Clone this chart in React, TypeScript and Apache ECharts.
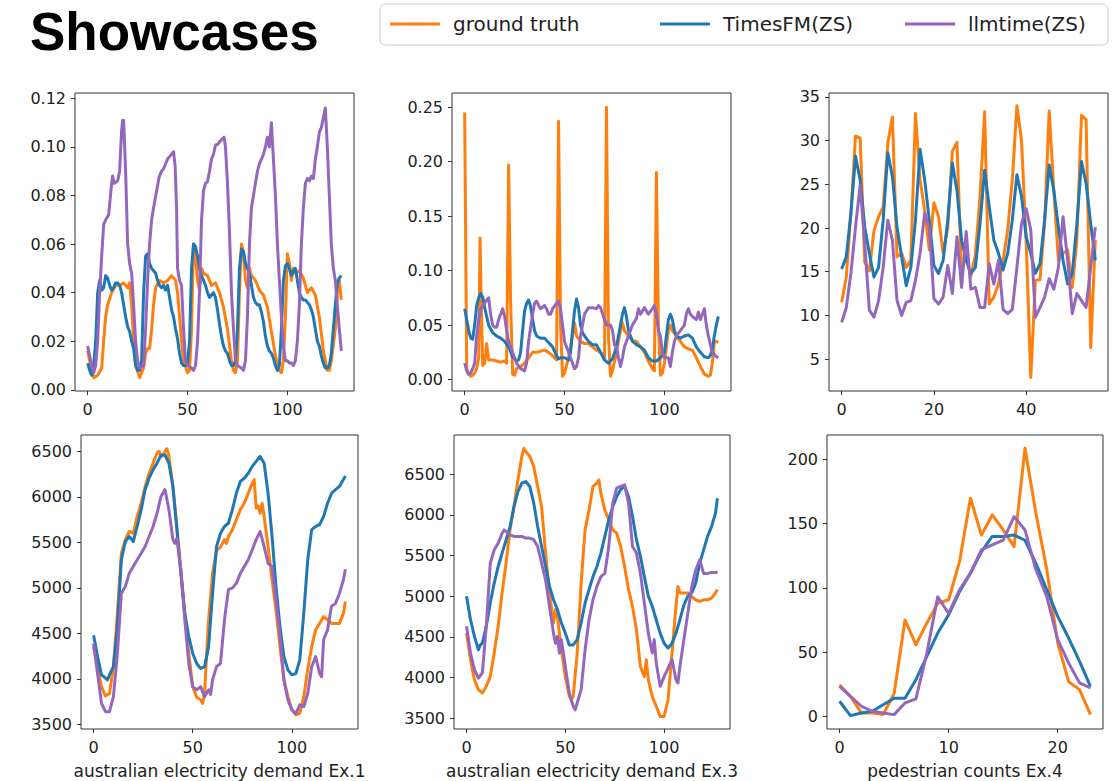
import React, { useEffect, useRef } from "react";
import * as echarts from "echarts";

const TITLE = "Showcases";
const SERIES_NAMES = ["ground truth", "TimesFM(ZS)", "llmtime(ZS)"];
const COLORS = ["#ff7f0e", "#1f77b4", "#9467bd"];
const X_NAMES = ["", "", "", "australian electricity demand Ex.1", "australian electricity demand Ex.3", "pedestrian counts Ex.4"];

const X_TICKS_A = [0, 50, 100];
const X_TICKS_B = [0, 20, 40];
const X_TICKS_C = [0, 10, 20];
const Y_TICKS_1 = [0, 0.02, 0.04, 0.06, 0.08, 0.1, 0.12];
const Y_TICKS_2 = [0, 0.05, 0.1, 0.15, 0.2, 0.25];
const Y_TICKS_3 = [5, 10, 15, 20, 25, 30, 35];
const Y_TICKS_4 = [3500, 4000, 4500, 5000, 5500, 6000, 6500];
const Y_TICKS_6 = [0, 50, 100, 150, 200];

// Panel 1
const p1Truth = [[0,0.016],[1,0.012],[3,0.005],[5,0.006],[7,0.009],[8,0.02],[9,0.03],[10,0.035],[12,0.04],[14,0.043],[16,0.043],[18,0.044],[20,0.042],[21,0.044],[22,0.035],[23,0.02],[24,0.01],[26,0.005],[28,0.009],[29,0.015],[30,0.017],[31,0.017],[32,0.025],[33,0.035],[34,0.042],[36,0.045],[38,0.044],[40,0.045],[42,0.047],[44,0.045],[45,0.04],[46,0.03],[47,0.02],[48,0.012],[50,0.007],[51,0.008],[52,0.025],[53,0.06],[54,0.055],[55,0.045],[56,0.041],[57,0.05],[58,0.048],[60,0.047],[62,0.043],[64,0.044],[66,0.04],[68,0.034],[70,0.025],[72,0.012],[73,0.008],[74,0.007],[75,0.012],[76,0.04],[77,0.06],[78,0.057],[79,0.045],[80,0.042],[81,0.05],[82,0.047],[84,0.045],[86,0.041],[88,0.039],[90,0.034],[92,0.024],[94,0.014],[96,0.008],[97,0.007],[98,0.012],[99,0.03],[100,0.056],[101,0.052],[102,0.045],[103,0.05],[104,0.048],[106,0.049],[108,0.046],[110,0.04],[112,0.042],[114,0.039],[116,0.03],[118,0.016],[120,0.008],[121,0.008],[122,0.012],[124,0.025],[125,0.04],[126,0.045],[127,0.037]];
const p1Times = [0.011,0.008,0.006,0.01,0.02,0.04,0.045,0.041,0.042,0.047,0.046,0.043,0.041,0.042,0.044,0.044,0.043,0.04,0.035,0.03,0.026,0.024,0.02,0.017,0.01,0.008,0.008,0.012,0.04,0.055,0.056,0.052,0.05,0.049,0.048,0.045,0.043,0.042,0.043,0.041,0.043,0.038,0.033,0.03,0.025,0.021,0.015,0.011,0.01,0.01,0.011,0.02,0.05,0.06,0.059,0.055,0.05,0.047,0.045,0.043,0.04,0.038,0.039,0.04,0.038,0.033,0.027,0.022,0.018,0.016,0.015,0.012,0.01,0.01,0.012,0.025,0.05,0.058,0.057,0.052,0.05,0.048,0.043,0.038,0.036,0.035,0.035,0.032,0.028,0.022,0.018,0.016,0.015,0.013,0.01,0.008,0.01,0.025,0.045,0.051,0.052,0.05,0.047,0.049,0.05,0.045,0.04,0.038,0.037,0.037,0.036,0.035,0.033,0.03,0.025,0.02,0.018,0.014,0.011,0.009,0.009,0.01,0.015,0.025,0.035,0.044,0.046,0.047];
const p1Llm = [[0,0.018],[2,0.01],[3,0.007],[4,0.01],[5,0.02],[6,0.04],[7,0.055],[8,0.068],[9,0.07],[10.5,0.072],[12,0.085],[12.5,0.088],[13.3,0.085],[15,0.086],[16,0.09],[17,0.107],[17.5,0.111],[18,0.111],[19,0.09],[20,0.06],[21,0.052],[22,0.048],[23,0.035],[24,0.02],[25,0.012],[26,0.009],[28,0.01],[29,0.025],[30,0.045],[31,0.06],[32,0.07],[33,0.075],[35.8,0.0877],[37,0.09],[38,0.091],[39,0.093],[40,0.095],[41,0.096],[43,0.098],[43.8,0.092],[44.5,0.075],[45,0.05],[46,0.045],[47,0.043],[48,0.025],[49,0.012],[50,0.01],[52,0.009],[53,0.008],[54,0.01],[55,0.02],[56,0.04],[57,0.07],[58,0.082],[59,0.085],[60,0.0857],[61,0.09],[62,0.095],[63,0.097],[64,0.1008],[65,0.101],[66,0.102],[67,0.103],[68.3,0.104],[69,0.1],[70,0.085],[71,0.065],[72,0.04],[73,0.025],[74,0.012],[75,0.01],[77,0.009],[78,0.008],[79,0.012],[80,0.03],[81,0.06],[82,0.075],[83,0.08],[84,0.085],[85,0.09],[86,0.093],[87,0.095],[88,0.097],[89,0.1],[90,0.104],[91,0.1],[92,0.11],[93,0.095],[94,0.08],[95,0.06],[96,0.045],[97,0.03],[98,0.018],[99,0.012],[100,0.012],[101,0.011],[102,0.011],[103,0.01],[104,0.012],[105,0.02],[106,0.035],[107,0.06],[108,0.075],[109,0.085],[110,0.087],[111,0.086],[112,0.088],[113,0.087],[114,0.095],[115,0.1],[116,0.106],[117,0.108],[118,0.112],[119,0.116],[120,0.1],[121,0.08],[122,0.06],[123,0.05],[124,0.045],[125,0.035],[126,0.025],[127,0.016]];

// Panel 2
const p2Truth = [[0,0.245],[1,0.01],[2,0.005],[3,0.003],[4,0.004],[5,0.006],[6,0.01],[7,0.02],[7.7,0.13],[8.3,0.07],[9,0.013],[10,0.015],[11,0.033],[12,0.018],[14,0.018],[16,0.017],[18,0.016],[20,0.017],[21,0.015],[22,0.197],[23,0.07],[24,0.005],[25,0.004],[26,0.01],[28,0.012],[30,0.015],[32,0.02],[34,0.025],[36,0.025],[38,0.026],[40,0.027],[42,0.025],[44,0.022],[46,0.018],[47,0.237],[48,0.05],[49,0.003],[50,0.006],[52,0.02],[54,0.04],[55,0.052],[56,0.04],[58,0.035],[60,0.033],[62,0.033],[64,0.03],[66,0.027],[68,0.025],[70,0.02],[71,0.25],[72,0.04],[73,0.003],[74,0.008],[76,0.025],[78,0.045],[79,0.052],[80,0.045],[82,0.04],[84,0.036],[86,0.035],[88,0.03],[90,0.025],[92,0.017],[94,0.01],[95,0.008],[96,0.19],[97,0.05],[98,0.004],[99,0.006],[100,0.015],[102,0.045],[103,0.05],[104,0.045],[106,0.04],[108,0.035],[110,0.03],[112,0.028],[114,0.027],[116,0.02],[118,0.012],[120,0.005],[122,0.003],[123,0.004],[124,0.015],[125,0.035],[126,0.035],[127,0.034]];
const p2Times = [[0,0.065],[1,0.055],[2,0.045],[3,0.038],[4,0.037],[5,0.05],[6,0.068],[7,0.075],[8,0.079],[9,0.076],[10,0.066],[11,0.058],[12,0.05],[14,0.043],[16,0.04],[18,0.038],[20,0.035],[22,0.03],[24,0.021],[26,0.017],[27,0.018],[28,0.025],[29,0.045],[30,0.063],[31,0.07],[32,0.073],[33,0.067],[34,0.055],[35,0.045],[36,0.04],[38,0.038],[40,0.038],[42,0.034],[44,0.03],[46,0.022],[47,0.019],[48,0.02],[50,0.02],[52,0.018],[53,0.025],[54,0.045],[55,0.063],[56,0.074],[57,0.066],[58,0.05],[59,0.043],[60,0.04],[62,0.035],[64,0.032],[66,0.032],[68,0.025],[70,0.018],[72,0.015],[74,0.019],[76,0.03],[78,0.05],[79,0.06],[80,0.066],[81,0.058],[82,0.045],[84,0.035],[86,0.032],[88,0.03],[90,0.027],[92,0.02],[94,0.017],[96,0.017],[98,0.02],[100,0.025],[101,0.04],[102,0.055],[103,0.06],[104,0.055],[105,0.045],[106,0.04],[108,0.038],[110,0.04],[112,0.041],[114,0.038],[116,0.03],[118,0.025],[120,0.021],[122,0.02],[123,0.022],[124,0.028],[125,0.04],[126,0.05],[127,0.058]];
const p2Llm = [[0,0.015],[1,0.008],[2,0.005],[3,0.006],[4,0.01],[5,0.015],[6,0.04],[7,0.055],[8,0.065],[10,0.07],[11,0.073],[12,0.075],[13,0.06],[14,0.05],[15,0.048],[16,0.048],[17,0.055],[18,0.06],[19,0.065],[20,0.058],[21,0.045],[22,0.035],[24,0.025],[26,0.015],[28,0.01],[30,0.008],[31,0.015],[32,0.035],[34,0.06],[35,0.07],[36,0.072],[37,0.068],[38,0.065],[40,0.068],[41,0.065],[42,0.06],[43,0.06],[44,0.065],[46,0.07],[47,0.072],[48,0.065],[49,0.05],[50,0.035],[52,0.025],[54,0.015],[55,0.01],[56,0.012],[57,0.02],[58,0.04],[60,0.06],[62,0.066],[64,0.066],[66,0.065],[67,0.068],[68,0.066],[70,0.055],[71,0.05],[73,0.05],[74,0.045],[75,0.032],[76,0.03],[77,0.02],[78,0.012],[79,0.02],[80,0.03],[82,0.04],[84,0.05],[86,0.056],[87,0.065],[88,0.06],[90,0.066],[92,0.06],[94,0.065],[95,0.068],[96,0.06],[97,0.045],[98,0.04],[99,0.025],[100,0.02],[102,0.02],[103,0.012],[104,0.025],[105,0.035],[106,0.04],[108,0.045],[110,0.05],[111,0.06],[112,0.065],[113,0.06],[114,0.058],[116,0.055],[117,0.062],[118,0.055],[119,0.06],[120,0.065],[121,0.05],[122,0.04],[124,0.025],[126,0.021],[127,0.02]];

// Panel 3
const p3Truth = [11.5,14.4,21.7,30.5,30.3,16.1,15.1,19.7,21.3,22.4,29.7,32.7,16.7,17.1,15.5,16.3,33.1,25.5,22,17.5,22.9,21.3,17.1,20,28.8,29.8,14.8,17.1,14.4,17,23.6,33.3,11.3,12.1,13.6,16.3,19.8,25.5,34,30,18.6,2.9,14,14.1,20.5,33.4,24.3,16.3,17.1,17.5,13.2,18.6,32.9,32.4,6.3,18.6];
const p3Times = [15.3,16.7,21.7,28.2,25.5,20.1,17.1,14.4,15.5,20.9,28.6,25.9,20.1,16.7,13.4,15.5,20.9,29,25.5,20.9,15.7,14.8,16.3,20.9,27.4,24.3,18.6,16.3,14.8,15.5,20.5,26.6,22.4,18.6,17.1,15.2,17.1,20.9,26.1,23.6,19,17.1,14.8,15.9,20.9,27.2,24.3,20.1,16.3,13.6,14.8,20.5,27.6,25.1,20.5,16.3];
const p3Llm = [9.2,10.9,14.8,20.1,24.9,18.2,10.6,9.8,11.7,15.5,20.9,18.6,11.7,10,11.5,11.7,14,17.1,21.7,20.1,11.9,11.3,12.1,15.7,12.5,19,13.2,19.6,13,13.2,10.9,10.9,15.9,13.6,16.3,10.7,10.2,10.7,15.5,20.5,22.2,19.8,9.8,10.9,12.1,14.2,13,15.5,21.3,16.3,10.2,12.5,11.7,10.9,15.5,20.1];

// Panel 4
const p4Truth = [[0,4355],[2,4135],[4,3915],[6,3812],[8,3840],[10,4135],[12,4720],[14,5380],[16,5530],[18,5620],[20,5600],[22,5785],[24,5930],[26,6115],[28,6260],[30,6370],[32,6480],[33,6500],[34,6440],[35,6460],[36,6500],[37,6530],[38,6445],[40,6115],[42,5675],[44,5200],[46,4720],[48,4280],[50,3915],[52,3800],[54,3770],[55,3730],[56,3840],[57,4280],[58,4650],[60,5160],[62,5410],[64,5450],[66,5530],[67,5490],[68,5565],[70,5640],[72,5750],[74,5860],[76,5930],[78,6040],[80,6150],[81,6190],[82,5875],[83,5900],[84,5820],[85,5930],[86,5785],[88,5455],[90,5090],[92,4760],[94,4355],[96,3990],[98,3805],[100,3660],[102,3605],[104,3625],[106,3805],[108,4100],[110,4355],[112,4540],[114,4610],[116,4685],[118,4650],[120,4610],[122,4610],[124,4610],[126,4720],[127,4850]];
const p4Times = [[0,4480],[2,4245],[4,4045],[6,4010],[7,3990],[8,4045],[10,4135],[12,4575],[14,5310],[16,5510],[18,5565],[20,5510],[22,5675],[24,5860],[26,6080],[28,6205],[30,6300],[32,6370],[34,6460],[36,6460],[38,6370],[40,6115],[42,5640],[44,5160],[46,4720],[48,4465],[50,4280],[52,4170],[54,4115],[56,4135],[58,4355],[60,4940],[62,5455],[64,5600],[66,5675],[68,5710],[70,5860],[72,6040],[74,6170],[76,6205],[78,6260],[80,6335],[82,6390],[84,6445],[86,6370],[88,6040],[90,5565],[92,5015],[94,4575],[96,4245],[98,4100],[100,4045],[102,4060],[104,4210],[106,4720],[108,5310],[110,5640],[112,5675],[114,5695],[116,5785],[118,5930],[120,6040],[122,6080],[124,6115],[126,6190],[127,6230]];
const p4Llm = [[0,4390],[2,4060],[4,3730],[6,3640],[8,3640],[10,3805],[12,4280],[14,4940],[16,5015],[18,5160],[20,5235],[22,5310],[24,5380],[26,5455],[28,5565],[30,5675],[32,5820],[34,6005],[36,6080],[38,5860],[40,5530],[41,5490],[42,5545],[44,5200],[46,4650],[48,4170],[50,3915],[52,3880],[54,3915],[56,3805],[58,3880],[59,3830],[60,3990],[62,4135],[64,4170],[66,4650],[68,4980],[70,5000],[72,5050],[74,5160],[76,5235],[78,5310],[80,5420],[82,5530],[84,5620],[86,5455],[88,5270],[90,5235],[92,4870],[94,4465],[96,3990],[98,3770],[100,3660],[102,3620],[104,3715],[106,3695],[108,3840],[110,4135],[112,4245],[114,4060],[115,4025],[116,4430],[118,4540],[120,4800],[122,4830],[124,4940],[126,5090],[127,5205]];

// Panel 5
const p5Truth = [[0,4545],[2,4218],[4,3970],[6,3850],[8,3808],[10,3890],[12,4010],[14,4300],[16,4630],[18,5040],[20,5405],[22,5815],[24,6100],[26,6430],[28,6720],[29,6820],[30,6780],[32,6720],[34,6595],[36,6350],[38,6100],[40,5530],[42,5040],[44,4670],[45,4835],[46,4750],[48,4340],[50,4010],[52,3770],[53,3725],[54,3770],[56,4300],[58,5160],[60,5815],[62,6060],[64,6350],[66,6390],[67,6430],[68,6265],[70,6060],[72,5940],[74,5815],[76,5775],[78,5610],[80,5365],[82,5080],[84,4875],[86,4585],[88,4135],[90,4010],[91,4218],[92,3970],[94,3765],[96,3645],[98,3520],[100,3520],[102,3725],[104,4300],[106,4875],[107,5120],[108,5040],[110,5040],[112,5040],[114,4995],[116,4955],[118,4935],[120,4955],[122,4955],[124,4975],[126,5040],[127,5080]];
const p5Times = [[0,5000],[2,4710],[4,4505],[6,4340],[7,4400],[8,4420],[10,4630],[12,4915],[14,5160],[16,5365],[18,5530],[20,5690],[22,5855],[24,6100],[26,6285],[28,6390],[30,6410],[32,6350],[34,6145],[36,5855],[38,5610],[40,5365],[42,5120],[44,4955],[46,4835],[48,4670],[50,4545],[52,4400],[54,4400],[56,4465],[58,4670],[60,4915],[62,5080],[64,5240],[66,5365],[68,5530],[70,5735],[72,5940],[74,6100],[76,6225],[78,6310],[80,6350],[82,6225],[84,5980],[86,5695],[88,5490],[90,5240],[92,5000],[94,4875],[96,4710],[98,4545],[100,4420],[102,4360],[104,4420],[106,4545],[108,4710],[110,4890],[112,5000],[114,5040],[116,5160],[118,5405],[120,5570],[122,5735],[124,5855],[126,6020],[127,6205]];
const p5Llm = [[0,4630],[2,4300],[4,4095],[6,3990],[8,4055],[10,4630],[12,5405],[14,5570],[16,5650],[18,5775],[19,5815],[20,5795],[22,5755],[24,5735],[26,5735],[28,5735],[30,5715],[32,5715],[34,5695],[36,5610],[38,5405],[40,5200],[42,4875],[44,4545],[45,4420],[46,4505],[47,4300],[48,4465],[50,4135],[52,3810],[54,3645],[55,3600],[56,3685],[58,3850],[60,4340],[62,4710],[64,4955],[66,5120],[68,5240],[70,5280],[72,5610],[74,6145],[76,6330],[78,6350],[80,6370],[82,6145],[84,5610],[86,5530],[88,5280],[90,4915],[92,4545],[94,4300],[95,4465],[96,4180],[98,3890],[100,4010],[102,4115],[104,4220],[106,3970],[107,3930],[108,4135],[110,4465],[112,4790],[114,5120],[116,5325],[118,5445],[120,5280],[122,5280],[124,5290],[126,5290],[127,5300]];

// Panel 6
const p6Truth = [24.6,15.5,2.6,2.6,1.3,17.6,75,55.7,72.5,88,90.7,120.5,169.7,141,156.7,145,132,208.5,158,114,57,27,20.7,1.3];
const p6Times = [11.7,0.5,2.6,3.9,9,14,14,28.5,46.6,64.8,79,97,111.4,128,140,140,141,137,119,98.4,77.7,60.9,42.7,23.3];
const p6Llm = [23.3,15.5,7.8,3.9,2.6,1.3,10.4,13.5,49,93,80,98.4,111.4,129.5,133.4,137,155.4,145,114,93,59.6,41.5,26,22];

const toPairs = (a: any[]) => (typeof a[0] === "number" ? a.map((y: number, i: number) => [i, y]) : a);

const PANELS = [
  { series: [p1Truth, p1Times, p1Llm], xr: [-6.35, 133.35], yr: [-0.0005, 0.1222], xt: X_TICKS_A, yt: Y_TICKS_1, dec: 2 },
  { series: [p2Truth, p2Times, p2Llm], xr: [-6.35, 133.35], yr: [-0.0105, 0.263], xt: X_TICKS_A, yt: Y_TICKS_2, dec: 2 },
  { series: [p3Truth, p3Times, p3Llm], xr: [-2.75, 57.75], yr: [1.35, 35.45], xt: X_TICKS_B, yt: Y_TICKS_3, dec: 0 },
  { series: [p4Truth, p4Times, p4Llm], xr: [-6.35, 133.35], yr: [3450, 6680], xt: X_TICKS_A, yt: Y_TICKS_4, dec: 0 },
  { series: [p5Truth, p5Times, p5Llm], xr: [-6.35, 133.35], yr: [3365, 6983], xt: X_TICKS_A, yt: Y_TICKS_4, dec: 0 },
  { series: [p6Truth, p6Times, p6Llm], xr: [-1.15, 24.15], yr: [-9.9, 218.9], xt: X_TICKS_C, yt: Y_TICKS_6, dec: 0 },
];

const LAYOUT = [
  { left: 75, top: 93, width: 279, height: 298 },
  { left: 452, top: 93, width: 279, height: 298 },
  { left: 829, top: 93, width: 279, height: 298 },
  { left: 81, top: 435, width: 277, height: 294 },
  { left: 454, top: 435, width: 276, height: 294 },
  { left: 827, top: 435, width: 276, height: 294 },
];
const LEGEND_X = [390, 660, 905];
const FONT = "DejaVu Sans";
const TXT = "#222";

function buildOption() {
  const grid = LAYOUT.map((l) => ({
    ...l,
    show: true,
    borderColor: "#333",
    borderWidth: 1,
    backgroundColor: "transparent",
    containLabel: false,
    outerBoundsMode: "none",
  }));
  const xAxis = PANELS.map((p, i) => ({
    type: "value",
    gridIndex: i,
    min: p.xr[0],
    max: p.xr[1],
    axisLine: { show: false, onZero: false },
    axisTick: { show: true, length: 4, lineStyle: { color: "#333" }, customValues: p.xt },
    axisLabel: { customValues: p.xt, fontSize: 16, fontFamily: FONT, color: TXT, margin: 10, formatter: (v: number) => String(v) },
    splitLine: { show: false },
    name: X_NAMES[i],
    nameLocation: "middle",
    nameGap: 33,
    nameTextStyle: { fontSize: 17, fontFamily: FONT, color: TXT },
  }));
  const yAxis = PANELS.map((p, i) => ({
    type: "value",
    gridIndex: i,
    min: p.yr[0],
    max: p.yr[1],
    axisLine: { show: false, onZero: false },
    axisTick: { show: true, length: 4, lineStyle: { color: "#333" }, customValues: p.yt },
    axisLabel: { customValues: p.yt, fontSize: 16, fontFamily: FONT, color: TXT, margin: 9, formatter: (v: number) => v.toFixed(p.dec) },
    splitLine: { show: false },
  }));
  const series: any[] = [];
  PANELS.forEach((p, i) => {
    p.series.forEach((d, k) => {
      series.push({
        type: "line",
        name: SERIES_NAMES[k],
        xAxisIndex: i,
        yAxisIndex: i,
        data: toPairs(d),
        showSymbol: false,
        symbol: "none",
        silent: true,
        z: 2 + k,
        itemStyle: { color: COLORS[k] },
        lineStyle: { width: 3, color: COLORS[k], join: "round" },
      });
    });
  });
  const legend = SERIES_NAMES.map((n, k) => ({
    data: [{ name: n, icon: "rect" }],
    left: LEGEND_X[k],
    top: 14,
    padding: 0,
    itemWidth: 50,
    itemHeight: 3,
    itemGap: 0,
    selectedMode: false,
    textStyle: { fontSize: 20, fontFamily: FONT, color: TXT, padding: [0, 0, 0, 8] },
  }));
  return {
    animation: false,
    backgroundColor: "#fff",
    grid,
    xAxis,
    yAxis,
    series,
    legend,
    graphic: [
      {
        type: "rect",
        shape: { x: 380, y: 4, width: 728, height: 41, r: 5 },
        style: { fill: "#fff", stroke: "#ccc", lineWidth: 1 },
        z: -1,
        silent: true,
      },
      {
        type: "text",
        x: 30,
        y: 31,
        style: { text: TITLE, font: 'bold 53px "Liberation Sans", Arial, sans-serif', fill: "#000", verticalAlign: "middle", align: "left" },
      },
    ],
  };
}

export default function App() {
  const ref = useRef<HTMLDivElement>(null);
  useEffect(() => {
    const chart = echarts.init(ref.current!, null, { renderer: "svg" });
    chart.setOption(buildOption() as any);
    return () => chart.dispose();
  }, []);
  return (
    <div
      ref={ref}
      style={{ position: "fixed", left: 0, top: 0, width: 1120, height: 781, background: "#fff" }}
    />
  );
}
